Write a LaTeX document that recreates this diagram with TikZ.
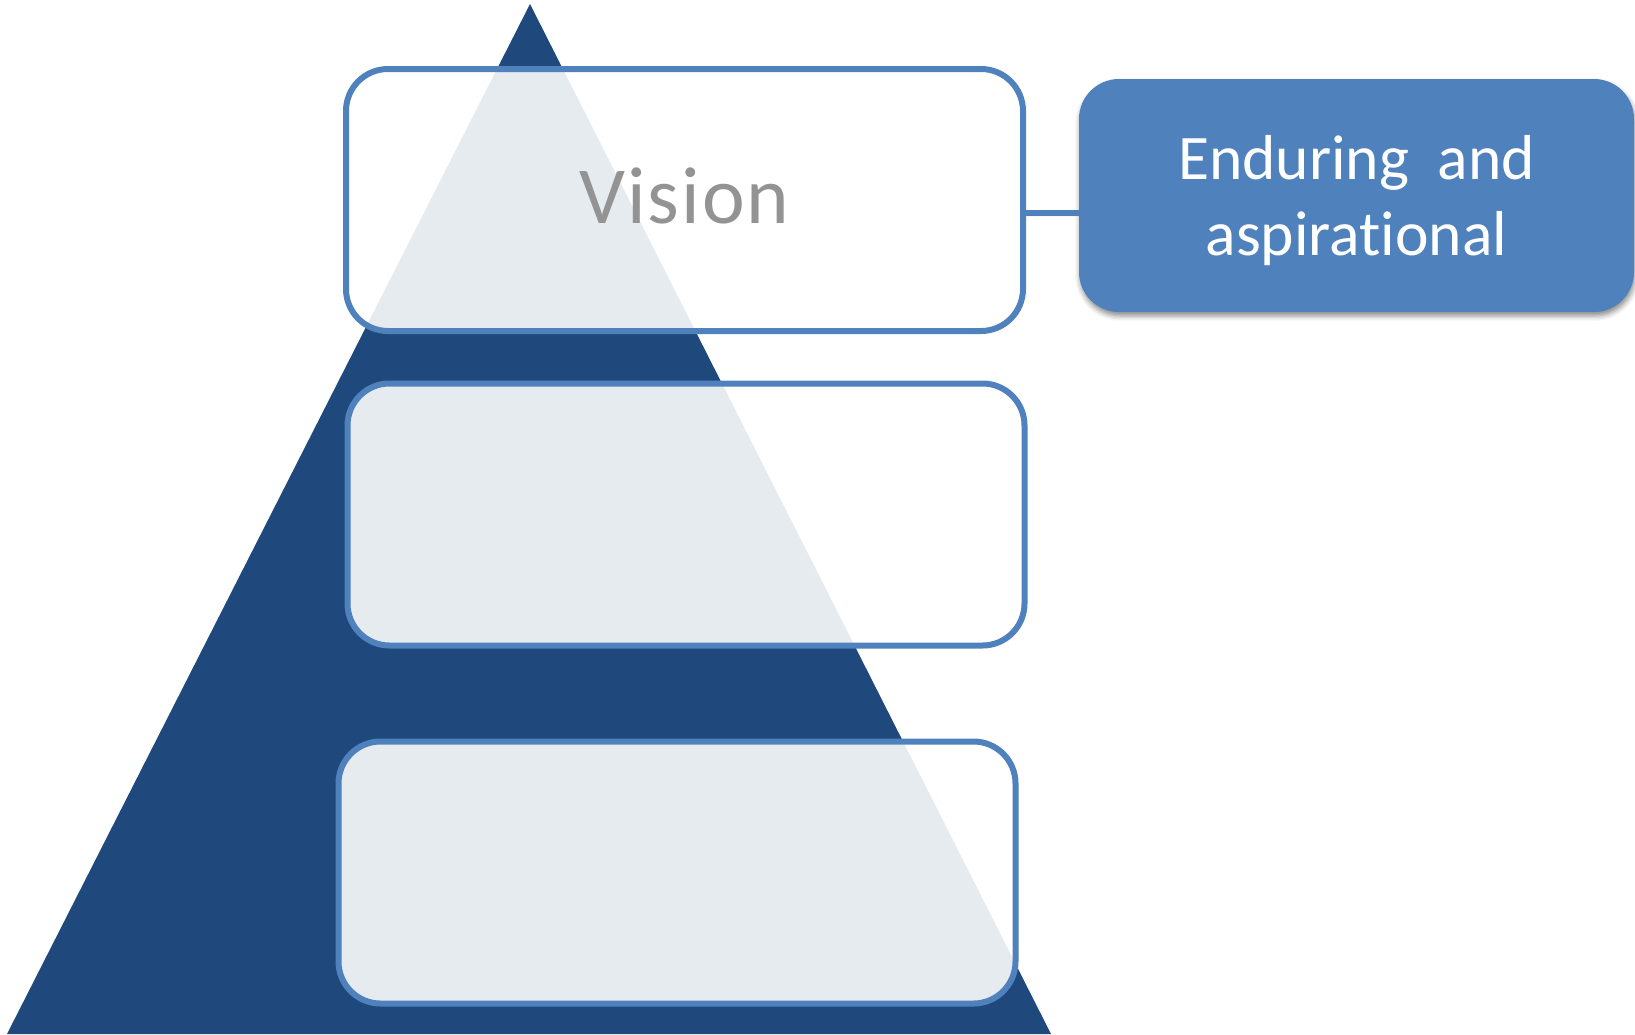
\documentclass[tikz,border=0pt]{standalone}
\usepackage{fontspec}
\setmainfont{Carlito}[Ligatures=NoCommon]
\usetikzlibrary{positioning,shadows.blur}
\definecolor{pyramid}{HTML}{1F497D}
\definecolor{accent}{HTML}{4F81BD}
\definecolor{visiongray}{HTML}{939393}

\begin{document}
\begin{tikzpicture}[x=1pt,y=-1pt,
  tier/.style={draw=accent, line width=6pt, fill=white, fill opacity=0.89,
    text opacity=1, rounded corners=42pt, inner sep=0pt,
    minimum width=677pt, minimum height=262pt},
  callout/.style={fill=accent, text=white, rounded corners=40pt, align=center,
    minimum width=555pt, minimum height=233pt, inner sep=0pt,
    blur shadow={shadow xshift=1pt, shadow yshift=-4pt, shadow opacity=45,
      shadow blur radius=5pt}},
  link/.style={draw=accent, line width=6pt,
    blur shadow={shadow xshift=0pt, shadow yshift=-2pt, shadow opacity=35,
      shadow blur radius=2pt}}]
\useasboundingbox (0,0) rectangle (1635,1034);

% pyramid
\fill[pyramid] (530,4) -- (1051,1034) -- (7,1034) -- cycle;

% tiers
\node[tier, text=visiongray, text depth=8pt,
  font=\fontsize{81}{97}\selectfont\addfontfeature{LetterSpace=2.5}]
  (vision) at (684.5,200) {Vision};
\node[tier] (middle) at (686,514.5) {};
\node[tier] (base) at (677,872.5) {};

% callout
\node[callout, text depth=0pt, font=\fontsize{63.5}{76}\selectfont]
  (aim) at (1356.5,195.5) {Enduring\ \ and\\aspirational};

\coordinate (linkstart) at ([yshift=-13pt]vision.east);
\draw[link] (linkstart) -- (linkstart -| aim.west);
\end{tikzpicture}
\end{document}
